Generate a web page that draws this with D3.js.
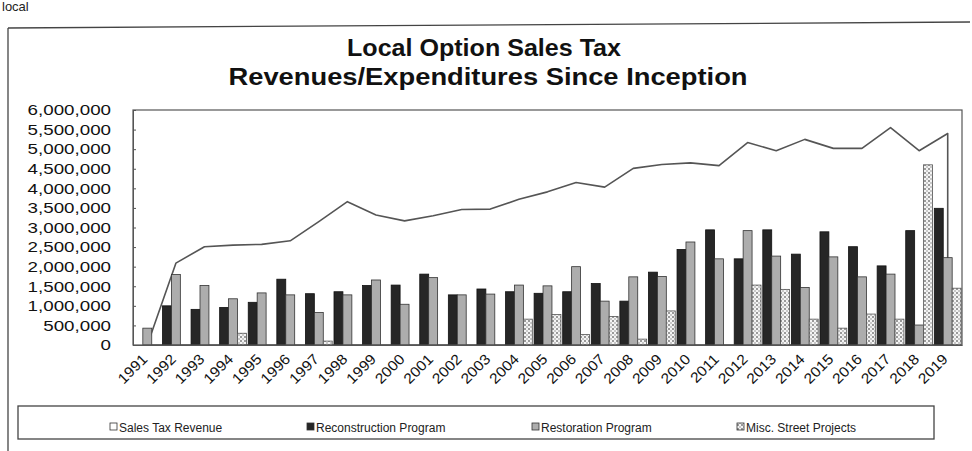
<!DOCTYPE html>
<html>
<head>
<meta charset="utf-8">
<script src="https://cdn.jsdelivr.net/npm/d3@7"></script>
<style>
  html, body { margin: 0; padding: 0; background: #fff; }
  svg { display: block; font-family: "Liberation Sans", Arial, sans-serif; }
</style>
</head>
<body>
<svg id="chart" width="972" height="451"></svg>
<script>
const years = ["1991","1992","1993","1994","1995","1996","1997","1998","1999","2000","2001","2002","2003","2004","2005","2006","2007","2008","2009","2010","2011","2012","2013","2014","2015","2016","2017","2018","2019"];
const salesTaxRevenue = [0,2090000,2510000,2550000,2570000,2660000,3150000,3660000,3320000,3170000,3300000,3460000,3470000,3720000,3910000,4150000,4030000,4510000,4610000,4650000,4580000,5170000,4960000,5250000,5020000,5020000,5550000,4960000,5400000];
const reconstruction = [0,1000000,910000,960000,1090000,1680000,1310000,1360000,1520000,1530000,1810000,1280000,1430000,1360000,1320000,1360000,1570000,1120000,1860000,2440000,2940000,2200000,2940000,2320000,2890000,2510000,2020000,2920000,3490000];
const restoration = [430000,1800000,1520000,1180000,1330000,1280000,830000,1280000,1660000,1040000,1720000,1280000,1300000,1530000,1510000,2000000,1120000,1740000,1750000,2630000,2200000,2920000,2270000,1470000,2250000,1740000,1810000,510000,2230000];
const miscStreet = [0,0,0,300000,0,0,100000,0,0,0,0,0,0,660000,780000,270000,730000,150000,870000,0,0,1530000,1420000,660000,430000,790000,660000,4600000,1450000];
const yTicks = [0,500000,1000000,1500000,2000000,2500000,3000000,3500000,4000000,4500000,5000000,5500000,6000000];
const legendLabels = ["Sales Tax Revenue","Reconstruction Program","Restoration Program","Misc. Street Projects"];
const titleLines = ["Local Option Sales Tax","Revenues/Expenditures Since Inception"];

const svg = d3.select("#chart");
const defs = svg.append("defs");
const pat = defs.append("pattern").attr("id","dots").attr("patternUnits","userSpaceOnUse")
  .attr("width",4).attr("height",4);
pat.append("rect").attr("width",4).attr("height",4).attr("fill","#f4f4f4");
pat.append("rect").attr("x",0).attr("y",0).attr("width",2).attr("height",2).attr("fill","#9a9a9a");
pat.append("rect").attr("x",2).attr("y",2).attr("width",2).attr("height",2).attr("fill","#c8c8c8");

function stretch(sel, k) {
  sel.each(function() {
    const w = this.getComputedTextLength();
    d3.select(this).attr("textLength", w * k).attr("lengthAdjust", "spacingAndGlyphs");
  });
}

// outer frame
svg.append("line").attr("x1",8).attr("y1",28).attr("x2",970).attr("y2",22).attr("stroke","#444").attr("stroke-width",1.3);
svg.append("line").attr("x1",8).attr("y1",28).attr("x2",8).attr("y2",451).attr("stroke","#444").attr("stroke-width",1.3);
svg.append("text").attr("x",2).attr("y",11).attr("font-size",13).attr("fill","#222").text("local");

// title
const titleW = [274, 519];
const tl = svg.append("g");
tl.selectAll("text").data(titleLines).join("text")
  .attr("x",(d,i)=>i===0?484:488).attr("y",(d,i)=>56+i*29)
  .attr("text-anchor","middle").attr("font-weight","bold").attr("font-size",23).attr("fill","#111")
  .attr("textLength",(d,i)=>titleW[i]).attr("lengthAdjust","spacingAndGlyphs")
  .text(d=>d);

const L = 133, R = 962, T = 110, B = 345;
const x = d3.scaleBand().domain(years).range([L,R]).paddingInner(0).paddingOuter(0);
const series = ["rec","res","misc"];
const xi = d3.scaleBand().domain(series).range([0,x.bandwidth()]).paddingInner(0).paddingOuter(0.1);
const y = d3.scaleLinear().domain([0,6000000]).range([B,T]);

// area (sales tax revenue)
const area = d3.area().x((d,i)=>x(years[i])+x.bandwidth()/2).y0(B).y1(d=>y(d));
svg.append("path").datum(salesTaxRevenue).attr("d",area)
  .attr("fill","#fff").attr("stroke","#555").attr("stroke-width",1.6).attr("stroke-linejoin","round");

// bars
const barData = [
  {key:"rec", vals:reconstruction, fill:"#262626", stroke:"#111"},
  {key:"res", vals:restoration, fill:"#adadad", stroke:"#333"},
  {key:"misc", vals:miscStreet, fill:"url(#dots)", stroke:"#555"}
];
barData.forEach(s=>{
  svg.append("g").selectAll("rect").data(s.vals.map((v,i)=>({v,yr:years[i]})).filter(d=>d.v>0)).join("rect")
    .attr("x",d=>x(d.yr)+xi(s.key))
    .attr("width",xi.bandwidth())
    .attr("y",d=>y(d.v))
    .attr("height",d=>B-y(d.v))
    .attr("fill",s.fill).attr("stroke",s.stroke).attr("stroke-width",0.8);
});

// plot frame
svg.append("rect").attr("x",L).attr("y",T).attr("width",R-L).attr("height",B-T)
  .attr("fill","none").attr("stroke","#555").attr("stroke-width",1.2);

// y axis
const yAxis = d3.axisLeft(y).tickValues(yTicks).tickFormat(d3.format(",")).tickSize(-3).tickPadding(22);
const ya = svg.append("g").attr("transform",`translate(${L},0)`).call(yAxis);
ya.select(".domain").attr("stroke","#555");
ya.selectAll(".tick line").attr("stroke","#555");
ya.selectAll("text").attr("font-size",15).attr("fill","#111").attr("font-family","Liberation Sans, Arial, sans-serif");
stretch(ya.selectAll("text"), 1.25);

// x axis
const xAxis = d3.axisBottom(x).tickSize(0).tickPadding(0);
const xa = svg.append("g").attr("transform",`translate(0,${B})`).call(xAxis);
xa.select(".domain").attr("stroke","#555");
xa.selectAll("text").attr("font-size",14.5).attr("fill","#111")
  .attr("font-family","Liberation Sans, Arial, sans-serif")
  .attr("text-anchor","end").attr("dy",0)
  .attr("transform","translate(1,15) rotate(-45)").attr("y",0).attr("x",0);
stretch(xa.selectAll("text"), 1.08);

// legend
svg.append("rect").attr("x",18).attr("y",406).attr("width",916).attr("height",33)
  .attr("fill","#fff").attr("stroke","#444").attr("stroke-width",1.3);
const legX = [110,307,532,737];
const legFill = ["#fff","#262626","#adadad","url(#dots)"];
const lg = svg.append("g").selectAll("g").data(legendLabels).join("g")
  .attr("transform",(d,i)=>`translate(${legX[i]},428)`);
lg.append("rect").attr("x",0).attr("y",-5).attr("width",7).attr("height",7)
  .attr("fill",(d,i)=>legFill[i]).attr("stroke","#333").attr("stroke-width",0.8);
lg.append("text").attr("x",9).attr("y",0).attr("dy","0.35em").attr("font-size",12).attr("fill","#222").text(d=>d);
</script>
</body>
</html>
